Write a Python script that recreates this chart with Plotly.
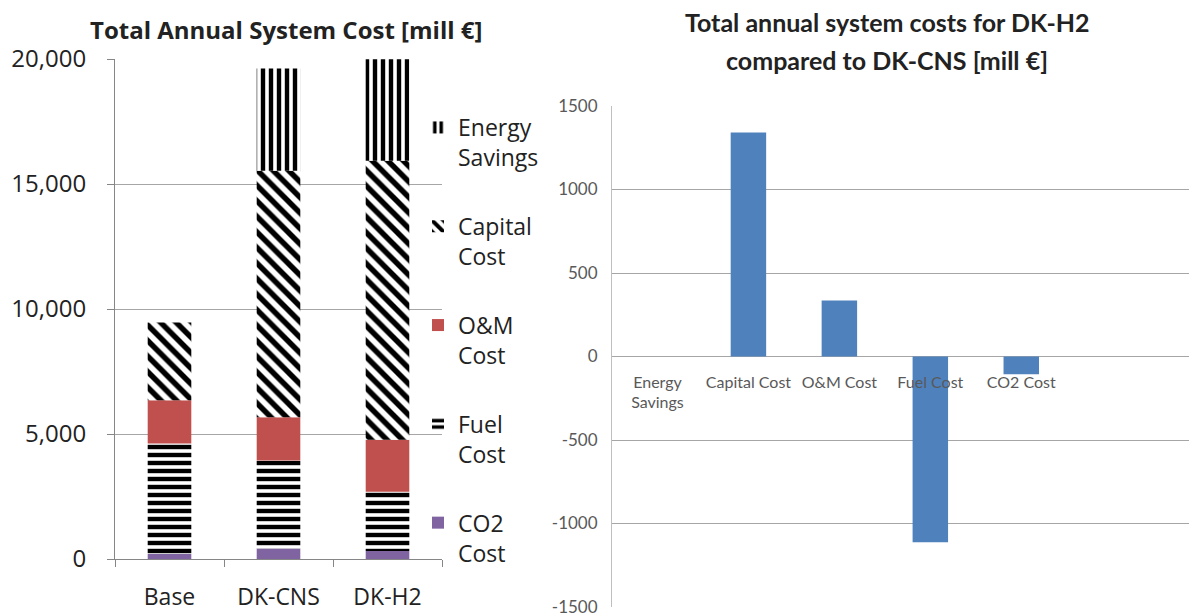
import plotly.graph_objects as go

# ---------------- data ----------------
scenarios = ["Base", "DK-CNS", "DK-H2"]
co2_cost = [200, 420, 320]
fuel_cost = [4420, 3525, 2375]
om_cost = [1735, 1725, 2075]
capital_cost = [3110, 9865, 11165]
energy_savings = [0, 4090, 4060]

left_yticks = [0, 5000, 10000, 15000, 20000]

diff_categories = ["Energy<br>Savings", "Capital Cost", "O&M Cost", "Fuel Cost", "CO2 Cost"]
diff_values = [0, 1342, 335, -1112, -107]
right_yticks = [1500, 1000, 500, 0, -500, -1000, -1500]
right_yticklabels = ["1500", "1000", "500", "0", "-500", "-1000", "-1500"]

# ---------------- styles ----------------
GRID = "#a6a6a6"
AXIS = "#868686"
LEFT_FONT = "Open Sans"
RIGHT_FONT = "Lato"

fig = go.Figure()

stack = [
    ("CO2<br>Cost", co2_cost, dict(color="#8064A2")),
    ("Fuel<br>Cost", fuel_cost, dict(color="white",
                                    pattern=dict(shape="-", fgcolor="#000000", bgcolor="#ffffff",
                                                 fgopacity=1, size=8, solidity=0.55))),
    ("O&M<br>Cost", om_cost, dict(color="#C0504D")),
    ("Capital<br>Cost", capital_cost, dict(color="white",
                                          pattern=dict(shape="\\", fgcolor="#000000", bgcolor="#ffffff",
                                                       fgopacity=1, size=11, solidity=0.5))),
    ("Energy<br>Savings", energy_savings, dict(color="white",
                                              pattern=dict(shape="|", fgcolor="#000000", bgcolor="#ffffff",
                                                           fgopacity=1, size=8, solidity=0.55))),
]
n = len(stack)
for i, (name, vals, mk) in enumerate(stack):
    mk = dict(mk)
    mk["line"] = dict(width=0)
    fig.add_trace(go.Bar(x=scenarios, y=vals, name=name, marker=mk, width=0.4,
                         legendgroup=f"g{i}", legendrank=n - i,
                         xaxis="x", yaxis="y", hoverinfo="y"))

fig.add_trace(go.Bar(x=diff_categories, y=diff_values, marker=dict(color="#4F81BD", line=dict(width=0)),
                     width=0.39, showlegend=False, xaxis="x2", yaxis="y2"))

W, H = 1197, 616
OFF = 8  # page offset of the figure in the browser


def px_x(p):
    return (p - OFF) / W


def px_y(p):
    return 1 - (p - OFF) / H


left_dom_x = [px_x(115), px_x(442)]
left_dom_y = [px_y(559), px_y(59)]
right_dom_x = [px_x(612), px_x(1205)]
right_dom_y = [px_y(607), px_y(106)]
zero_pos = (right_dom_y[0] + right_dom_y[1]) / 2

fig.update_layout(
    width=W, height=H,
    margin=dict(l=0, r=0, t=0, b=0, autoexpand=False),
    paper_bgcolor="white", plot_bgcolor="white",
    barmode="relative",
    showlegend=True,
    legend=dict(xref="container", yref="container", x=px_x(418), y=px_y(106),
                xanchor="left", yanchor="top", maxheight=600,
                traceorder="grouped", tracegroupgap=36, valign="top",
                font=dict(family=LEFT_FONT, size=23, color="#222222"),
                bgcolor="rgba(0,0,0,0)", itemwidth=30),
    xaxis=dict(domain=left_dom_x, anchor="y", type="category", range=[-0.5, 2.5],
               showline=True, linecolor=AXIS, linewidth=1, ticks="outside", ticklen=7,
               tickcolor=AXIS, tickson="boundaries", showgrid=False, ticklabelstandoff=17,
               tickfont=dict(family=LEFT_FONT, size=23, color="#222222")),
    yaxis=dict(domain=left_dom_y, anchor="x", range=[0, 20000], tickvals=left_yticks,
               tickformat=",", showline=True, linecolor=AXIS, linewidth=1,
               ticks="outside", ticklen=7, tickcolor=AXIS, showgrid=True, gridcolor=GRID,
               gridwidth=1, zeroline=False, ticklabelstandoff=16,
               tickfont=dict(family=LEFT_FONT, size=24, color="#222222")),
    xaxis2=dict(domain=right_dom_x, anchor="free", position=zero_pos, type="category",
                range=[-0.5, 6.02], showline=False, ticks="", showgrid=False,
                ticklabelstandoff=14,
                tickfont=dict(family=RIGHT_FONT, size=16, color="#595959")),
    yaxis2=dict(domain=right_dom_y, anchor="x2", range=[-1500, 1500], tickvals=right_yticks,
                ticktext=right_yticklabels, showline=True, linecolor="#bfbfbf", linewidth=1,
                ticks="", showgrid=True, gridcolor=GRID, gridwidth=1, zeroline=True,
                zerolinecolor=GRID, zerolinewidth=1, ticklabelstandoff=10,
                tickfont=dict(family=RIGHT_FONT, size=17, color="#595959")),
    annotations=[
        dict(text="<b>Total Annual System Cost [mill €]</b>", x=px_x(286), y=px_y(30),
             xref="paper", yref="paper", showarrow=False, xanchor="center", yanchor="middle",
             font=dict(family=LEFT_FONT, size=24, color="#222222")),
        dict(text="<b>Total annual system costs for DK-H2</b>", x=px_x(887), y=px_y(22),
             xref="paper", yref="paper", showarrow=False, xanchor="center", yanchor="middle",
             font=dict(family=RIGHT_FONT, size=25, color="#222222")),
        dict(text="<b>compared to DK-CNS [mill €]</b>", x=px_x(887), y=px_y(60),
             xref="paper", yref="paper", showarrow=False, xanchor="center", yanchor="middle",
             font=dict(family=RIGHT_FONT, size=25, color="#222222")),
    ],
)

fig.write_html("out.html")
